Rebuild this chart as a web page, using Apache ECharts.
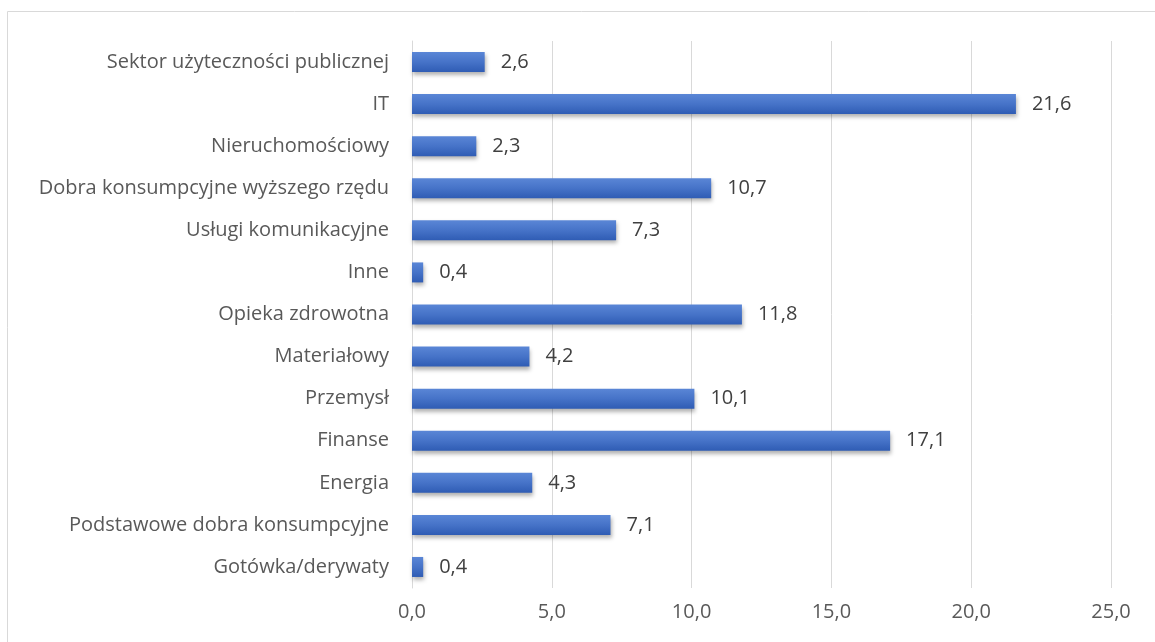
<!DOCTYPE html>
<html>
<head>
<meta charset="utf-8">
<script src="https://cdn.jsdelivr.net/npm/echarts@6/dist/echarts.min.js"></script>
<style>html,body{margin:0;padding:0;background:#fff}#c{width:1155px;height:642px}</style>
</head>
<body>
<div id="c"></div>
<script>
const categories = ["Sektor użyteczności publicznej","IT","Nieruchomościowy","Dobra konsumpcyjne wyższego rzędu","Usługi komunikacyjne","Inne","Opieka zdrowotna","Materiałowy","Przemysł","Finanse","Energia","Podstawowe dobra konsumpcyjne","Gotówka/derywaty"];
const values = [2.6,21.6,2.3,10.7,7.3,0.4,11.8,4.2,10.1,17.1,4.3,7.1,0.4];
const axisMin = 0, axisMax = 25, axisStep = 5;

const fmt = v => v.toFixed(1).replace('.', ',');
const font = "'Open Sans', 'Liberation Sans', sans-serif";
const chart = echarts.init(document.getElementById('c'));
chart.setOption({
  animation: false,
  graphic: [{type:'rect', shape:{x:7.5,y:11.5,width:1300,height:800}, style:{fill:'none',stroke:'#d9d9d9',lineWidth:1}, silent:true, z:-1}],
  grid: {left:412, right:44, top:41, bottom:54, containLabel:false},
  xAxis: {type:'value', min:axisMin, max:axisMax, interval:axisStep,
    axisLine:{show:false}, axisTick:{show:false},
    splitLine:{lineStyle:{color:'#d9d9d9', width:1}},
    axisLabel:{formatter:fmt, color:'#595959', fontSize:20, fontFamily:font, margin:14}},
  yAxis: {type:'category', data:categories, inverse:true,
    axisLine:{show:true, lineStyle:{color:'#d9d9d9'}}, axisTick:{show:false},
    axisLabel:{color:'#595959', fontSize:20, fontFamily:font, margin:23}},
  series: [{type:'bar', data:values, barWidth:20,
    itemStyle:{color:new echarts.graphic.LinearGradient(0,0,0,1,[
      {offset:0,color:'#5a86d6'},{offset:0.5,color:'#4673c8'},{offset:1,color:'#2f5cb4'}]),
      shadowColor:'rgba(0,0,0,0.3)', shadowBlur:4, shadowOffsetX:1, shadowOffsetY:3},
    label:{show:true, position:'right', distance:16, formatter:p=>fmt(p.value), color:'#404040', fontSize:20, fontFamily:font}}]
});
</script>
</body>
</html>
